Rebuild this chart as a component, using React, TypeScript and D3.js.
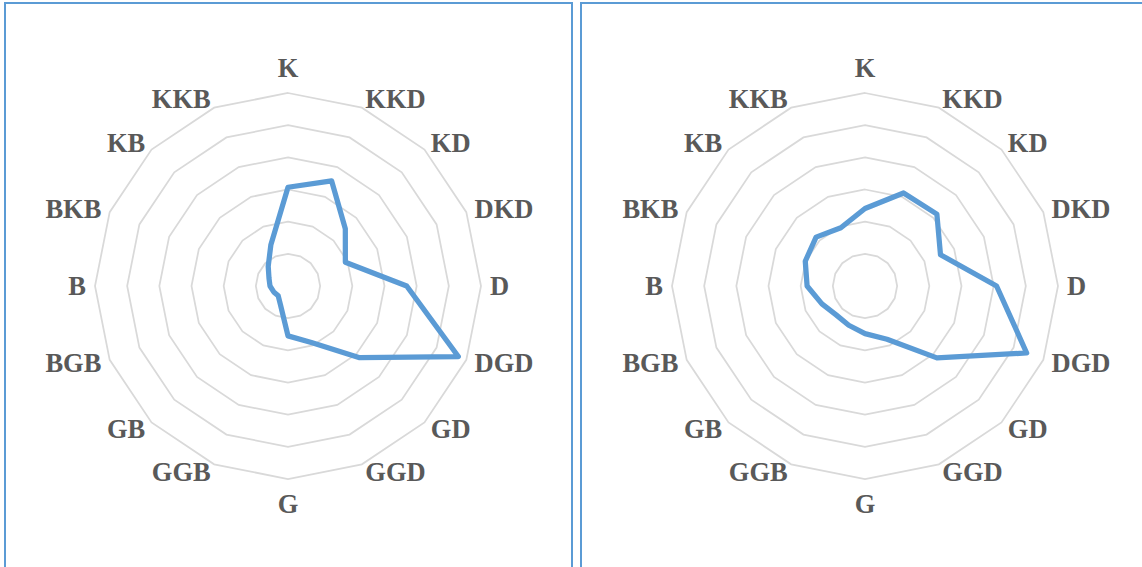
import React, { useRef, useEffect } from 'react';
import * as d3 from 'd3';

const categories = ['K', 'KKD', 'KD', 'DKD', 'D', 'DGD', 'GD', 'GGD', 'G', 'GGB', 'GB', 'BGB', 'B', 'BKB', 'KB', 'KKB'];

const leftValues = [3.07, 3.54, 2.52, 1.93, 3.69, 5.73, 3.15, 1.9, 1.55, 0.62, 0.43, 0.48, 0.56, 0.64, 0.87, 1.39];
const rightValues = [2.41, 3.13, 3.16, 2.54, 4.09, 5.44, 3.16, 1.79, 1.48, 1.32, 1.27, 1.45, 1.8, 2.01, 2.15, 1.96];

const ringLevels = [1, 2, 3, 4, 5, 6];

const W = 1142;
const H = 567;

const App: React.FC = () => {
    const svgRef = useRef<SVGSVGElement>(null);

    useEffect(() => {
        if (!svgRef.current) return;
        const svg = d3.select(svgRef.current);
        svg.selectAll('*').remove();

        const R = 193;
        const rScale = d3.scaleLinear().domain([0, 6]).range([0, R]);
        const angle = d3.scalePoint<string>()
            .domain(categories)
            .range([0, 2 * Math.PI - (2 * Math.PI) / categories.length]);

        const panels = [
            { x0: 5, x1: 572, cx: 288, values: leftValues },
            { x0: 581, x1: 1150, cx: 865, values: rightValues },
        ];

        panels.forEach(p => {
            // frame
            svg.append('rect')
                .attr('x', p.x0)
                .attr('y', 3)
                .attr('width', p.x1 - p.x0)
                .attr('height', H + 10)
                .attr('fill', 'white')
                .attr('stroke', '#5b9bd5')
                .attr('stroke-width', 2);

            const g = svg.append('g').attr('transform', `translate(${p.cx}, 286)`);

            // rings
            const ringLine = d3.lineRadial<string>()
                .angle(d => angle(d)!)
                .curve(d3.curveLinearClosed);

            ringLevels.forEach(lv => {
                g.append('path')
                    .attr('d', ringLine.radius(() => rScale(lv))(categories))
                    .attr('fill', 'none')
                    .attr('stroke', '#d9d9d9')
                    .attr('stroke-width', 1.75);
            });

            // labels
            categories.forEach(c => {
                const a = angle(c)!;
                const s = Math.sin(a);
                const co = Math.cos(a);
                const d = R + 9;
                let x = d * s;
                let y = -d * co;
                let anchor = 'middle';
                if (s > 0.01) anchor = 'start';
                else if (s < -0.01) anchor = 'end';
                else y += co > 0 ? -16 : 16;
                g.append('text')
                    .attr('x', x)
                    .attr('y', y + 8.8)
                    .attr('text-anchor', anchor)
                    .attr('font-family', '"Liberation Serif", "Times New Roman", serif')
                    .attr('font-weight', 'bold')
                    .attr('font-size', '26.5px')
                    .attr('fill', '#595959')
                    .text(c);
            });

            // series
            const seriesLine = d3.lineRadial<number>()
                .angle((_, i) => angle(categories[i])!)
                .radius(v => rScale(v))
                .curve(d3.curveLinearClosed);

            g.append('path')
                .attr('d', seriesLine(p.values))
                .attr('fill', 'none')
                .attr('stroke', '#5b9bd5')
                .attr('stroke-width', 5.25)
                .attr('stroke-linejoin', 'round');
        });
    }, []);

    return (
        <svg
            ref={svgRef}
            width={W}
            height={H}
            style={{ position: 'fixed', left: 0, top: 0, background: 'white' }}
        />
    );
};

export default App;
